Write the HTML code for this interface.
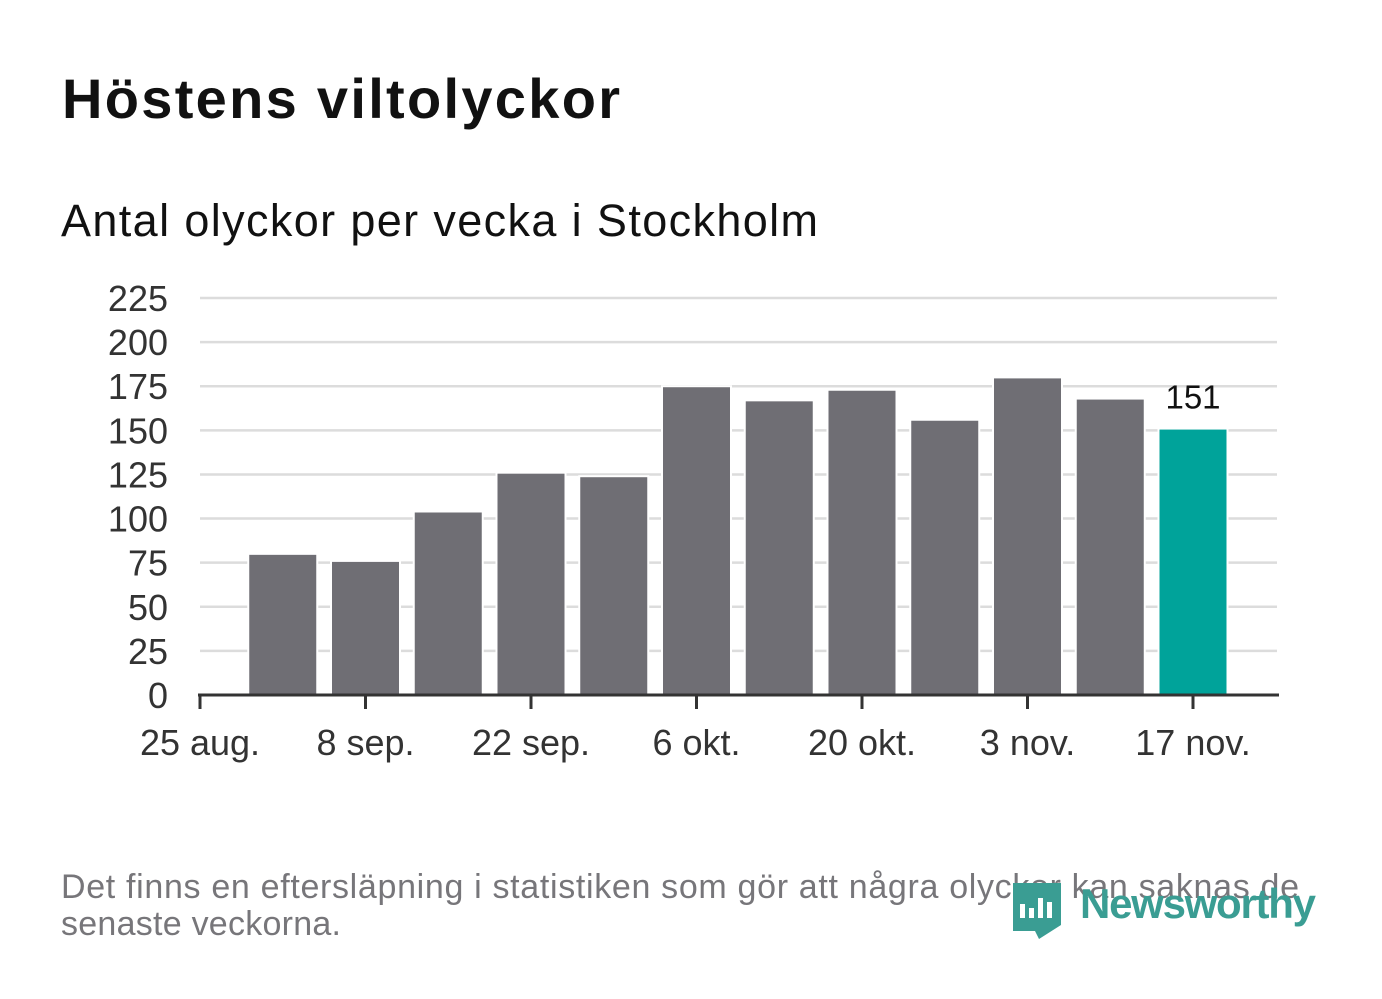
<!DOCTYPE html>
<html><head><meta charset="utf-8"><style>
body{margin:0;background:#fff;width:1382px;height:999px;overflow:hidden;font-family:"Liberation Sans",sans-serif;}
svg{position:absolute;left:0;top:0}
</style></head><body>
<svg width="1382" height="999">
<text x="62" y="118" font-size="56" font-weight="bold" fill="#111" font-family="Liberation Sans, sans-serif" textLength="558">Höstens viltolyckor</text>
<text x="61" y="236" font-size="45" fill="#111" font-family="Liberation Sans, sans-serif" textLength="757">Antal olyckor per vecka i Stockholm</text>
<g id="grid"></g><g id="bars"></g><g id="axes"></g>
<text x="61" y="898" font-size="34" fill="#77767a" font-family="Liberation Sans, sans-serif" textLength="1238">Det finns en eftersläpning i statistiken som gör att några olyckor kan saknas de</text>
<text x="61" y="935" font-size="34" fill="#77767a" font-family="Liberation Sans, sans-serif" textLength="280">senaste veckorna.</text>
<g>
<path d="M1013 883 h48 v42 l-22 14 l-4 -8 h-22 z" fill="#3a9d93"/>
<rect x="1020" y="904" width="5" height="14" fill="#fff"/><rect x="1029" y="908" width="5" height="10" fill="#fff"/><rect x="1038" y="898" width="5" height="20" fill="#fff"/><rect x="1047" y="902" width="5" height="16" fill="#fff"/>
<text x="1080" y="918" font-size="42" font-weight="bold" fill="#3a9d93" font-family="Liberation Sans, sans-serif" textLength="236">Newsworthy</text>
</g>
</svg>
<script>
const weeks=['1 sep','8 sep','15 sep','22 sep','29 sep','6 okt','13 okt','20 okt','27 okt','3 nov','10 nov','17 nov'];
const values=[80,76,104,126,124,175,167,173,156,180,168,151];
const yTicks=[0,25,50,75,100,125,150,175,200,225];
const xTickLabels=['25 aug.','8 sep.','22 sep.','6 okt.','20 okt.','3 nov.','17 nov.'];
const ns='http://www.w3.org/2000/svg';
const X0=200,X1=1277,Y0=695,Y1=298,WEEK=82.75;
const y=v=>Y0-(v/225)*(Y0-Y1);
const xw=i=>X0+WEEK*(i+1);
function mk(t,a,p){const e=document.createElementNS(ns,t);for(const k in a)e.setAttribute(k,a[k]);p.appendChild(e);return e;}
const grid=document.getElementById('grid'),bars=document.getElementById('bars'),axes=document.getElementById('axes');
yTicks.forEach(v=>{
 if(v>0){const l=mk('line',{x1:X0,x2:X1,y1:y(v),y2:y(v),stroke:'#dcdcdc','stroke-width':2.5},grid);
 
 }
 const t=mk('text',{x:168,y:y(v)+13,'text-anchor':'end','font-size':36,fill:'#333','font-family':'Liberation Sans, sans-serif'},axes);
 t.textContent=v;
 
 
});
values.forEach((v,i)=>{
 const last=i===values.length-1;
 const r=mk('rect',{x:xw(i)-34.5,y:y(v),width:69,height:Y0-y(v),fill:last?'#00a39a':'#6f6e74',stroke:'#fff','stroke-width':2},bars);
 
 
 if(last){const t=mk('text',{x:xw(i),y:y(v)-20,'text-anchor':'middle','font-size':33,fill:'#111','font-family':'Liberation Sans, sans-serif'},bars);
 t.textContent=v;
 
 }
});
const ax=mk('line',{x1:X0-2,x2:X1+2,y1:Y0,y2:Y0,stroke:'#333','stroke-width':3},axes);


xTickLabels.forEach((lab,k)=>{
 const x=X0+WEEK*2*k;
 const tk=mk('line',{x1:x,x2:x,y1:Y0,y2:Y0+14,stroke:'#333','stroke-width':3},axes);
 
 
 const t=mk('text',{x:x,y:Y0+60,'text-anchor':'middle','font-size':36,fill:'#333','font-family':'Liberation Sans, sans-serif'},axes);
 t.textContent=lab;
 
 
});
</script>
</body></html>
